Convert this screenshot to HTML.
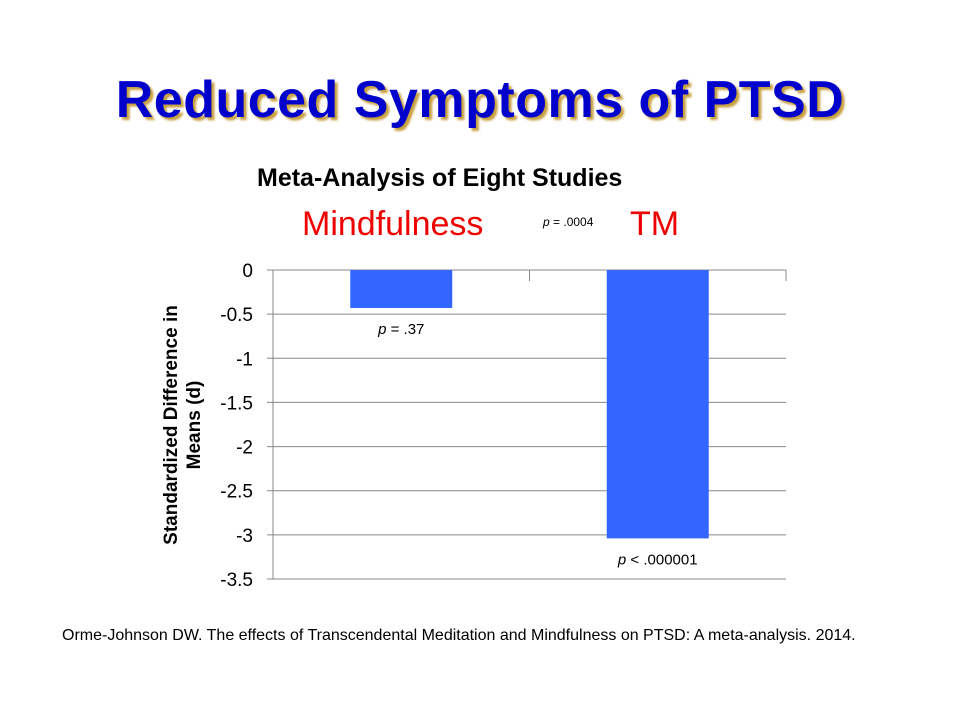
<!DOCTYPE html>
<html><head><meta charset="utf-8"><style>
body{margin:0;width:960px;height:720px;background:#fff;position:relative;font-family:"Liberation Sans",Arial,sans-serif;overflow:hidden}
.abs{position:absolute}
</style></head><body>
<div class="abs" style="left:0;width:960px;top:70px;text-align:center;font-size:52px;font-weight:bold;color:#0000cc;text-shadow:3px 3px 2px #c8a040;letter-spacing:0.5px">Reduced Symptoms of PTSD</div>
<div class="abs" style="left:257px;top:164px;font-size:25px;font-weight:bold;color:#000">Meta-Analysis of Eight Studies</div>
<div class="abs" style="left:302px;top:205px;font-size:34px;color:#ee0000">Mindfulness</div>
<div class="abs" style="left:630px;top:205px;font-size:34px;color:#ee0000">TM</div>
<div class="abs" style="left:543px;top:215px;font-size:12px;color:#000"><i>p</i> = .0004</div>
<div class="abs" style="left:62px;top:624px;width:820px;font-size:16px;line-height:24px;color:#000">Orme-Johnson DW. The effects of Transcendental Meditation and Mindfulness on PTSD: A meta-analysis. 2014.</div>
<svg class="abs" style="left:0;top:0" width="960" height="720" id="chart">
<text transform="translate(177,425) rotate(-90)" text-anchor="middle" font-size="19" font-weight="bold" font-family="Liberation Sans,sans-serif"><tspan x="0" dy="0">Standardized Difference in</tspan><tspan x="0" dy="23">Means (d)</tspan></text>
</svg>
<script>
const categories=["Mindfulness","TM"];
const values=[-0.43,-3.04];
const pLabels=["p = .37","p < .000001"];
const ticks=[0,-0.5,-1,-1.5,-2,-2.5,-3,-3.5];
const tickLabels=["0","-0.5","-1","-1.5","-2","-2.5","-3","-3.5"];
const svg=document.getElementById('chart');
const NS='http://www.w3.org/2000/svg';
const X0=273,X1=786,Y0=270,Y1=579;
const y=v=>Y0+(0-v)/3.5*(Y1-Y0);
const band=(X1-X0)/categories.length;
function mk(t,a){const e=document.createElementNS(NS,t);for(const k in a)e.setAttribute(k,a[k]);svg.appendChild(e);return e;}
ticks.forEach((t,i)=>{
 const l=mk('line',{x1:X0-6,x2:X1,y1:y(t),y2:y(t),stroke:'#888','stroke-width':1});
 
 
 const tx=mk('text',{x:X0-20,y:y(t)+7,'text-anchor':'end','font-size':19,'font-family':'Liberation Sans,sans-serif'});
 tx.textContent=tickLabels[i];
 
 
});
const ax=mk('line',{x1:X0,x2:X0,y1:Y0,y2:Y1,stroke:'#888'});


for(let i=0;i<=categories.length;i++){
 const tk=mk('line',{x1:X0+band*i,x2:X0+band*i,y1:Y0,y2:Y0+11,stroke:'#888'});
 
 
}
values.forEach((v,i)=>{
 const cx=X0+band*(i+0.5),w=102;
 const r=mk('rect',{x:cx-w/2,y:y(0),width:w,height:y(v)-y(0),fill:'#3366ff'});
 
 
 const t=mk('text',{x:cx,y:y(v)+26,'text-anchor':'middle','font-size':15,'font-family':'Liberation Sans,sans-serif'});
 
 
 const parts=pLabels[i].split(' ');
 const a=document.createElementNS(NS,'tspan');a.setAttribute('font-style','italic');a.textContent=parts[0];t.appendChild(a);
 const b=document.createElementNS(NS,'tspan');b.textContent=' '+parts.slice(1).join(' ');t.appendChild(b);
});
</script>
</body></html>
